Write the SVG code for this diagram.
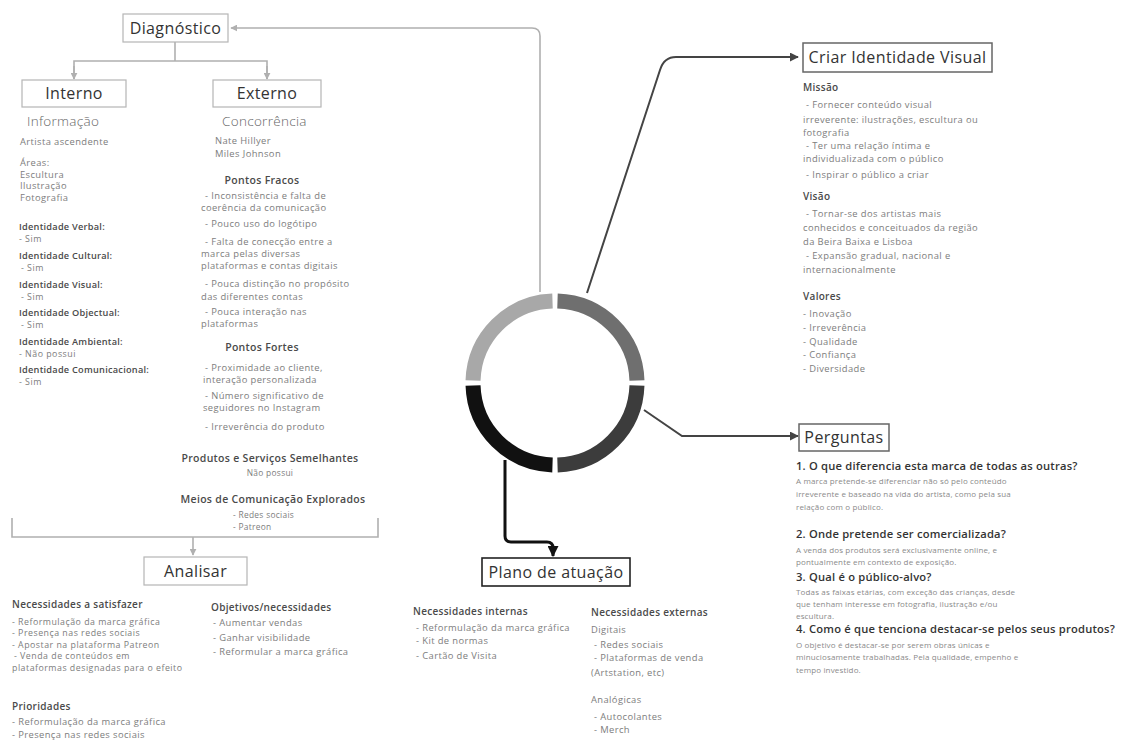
<svg xmlns="http://www.w3.org/2000/svg" width="1123" height="741" viewBox="0 0 1123 741">
<style>
text{font-family:"Open Sans","Noto Sans",sans-serif}
.bx1{fill:#fff;stroke:#b5b5b5;stroke-width:1.2}
.bx2{fill:#fff;stroke:#666;stroke-width:1.5}
.bx3{fill:#fff;stroke:#222;stroke-width:1.6}
.bt{font-size:16px;fill:#333;text-anchor:middle;letter-spacing:.4px}
.sub{font-size:13.5px;fill:#666;font-weight:300;letter-spacing:.3px}
.s{font-size:9.4px;fill:#7d7d7d;letter-spacing:.4px}
.st{font-size:8.8px;fill:#7d7d7d;letter-spacing:.5px}
.sm{font-size:8.4px;fill:#7d7d7d;letter-spacing:.3px}
.h{font-size:10px;font-weight:600;fill:#4a4a4a;letter-spacing:.3px}
.hi{font-size:9.2px;font-weight:600;fill:#4a4a4a;letter-spacing:.25px}
.hc{font-size:10.5px;font-weight:600;fill:#4a4a4a;text-anchor:middle;letter-spacing:.3px}
.q{font-size:11.2px;font-weight:600;fill:#333;letter-spacing:.2px}
.qb{font-size:8px;fill:#8a8a8a;letter-spacing:.15px}
.c{text-anchor:middle}
.gl{fill:none;stroke:#b0b0b0;stroke-width:1.6}
.dl{fill:none;stroke:#444;stroke-width:2}
.kl{fill:none;stroke:#111;stroke-width:3}
</style>
<defs>
<marker id="ag" viewBox="0 0 10 10" refX="9" refY="5" markerWidth="7" markerHeight="7" markerUnits="userSpaceOnUse" orient="auto"><path d="M0,0 L10,5 L0,10 z" fill="#b0b0b0"/></marker>
<marker id="ad" viewBox="0 0 10 10" refX="9" refY="5" markerWidth="9" markerHeight="9" markerUnits="userSpaceOnUse" orient="auto"><path d="M0,0 L10,5 L0,10 z" fill="#444"/></marker>
<marker id="ak" viewBox="0 0 10 10" refX="9" refY="5" markerWidth="11" markerHeight="11" markerUnits="userSpaceOnUse" orient="auto"><path d="M0,0 L10,5 L0,10 z" fill="#111"/></marker>
</defs>
<rect width="1123" height="741" fill="#fff"/>

<g id="connectors">
<path class="gl" d="M540,292 L540,36 Q540,28 532,28 L231,28" marker-end="url(#ag)"/>
<path class="gl" d="M175,42 L175,61"/>
<path class="gl" d="M74,79 L74,61 L267,61 L267,79" />
<path class="gl" d="M74,66 L74,79" marker-end="url(#ag)"/>
<path class="gl" d="M267,66 L267,79" marker-end="url(#ag)"/>
<path class="gl" d="M12,518 L12,537 L378,537 L378,518"/>
<path class="gl" d="M193,537 L193,555" marker-end="url(#ag)"/>
<path class="dl" d="M587,293 L660,70 Q664,57 676,57 L798,57" marker-end="url(#ad)"/>
<path class="dl" d="M644,410 L682,436 L798,436" marker-end="url(#ad)"/>
<path class="kl" d="M505,460 L505,536 Q505,542 511,542 L547,542 Q553,542 553,548 L553,556" marker-end="url(#ak)"/>
</g>

<g id="ring">
<path d="M473.04,380.5 A82,82 0 0 1 552.5,301.04" fill="none" stroke="#a8a8a8" stroke-width="15"/>
<path d="M557.5,301.04 A82,82 0 0 1 636.96,380.5" fill="none" stroke="#6f6f6f" stroke-width="15"/>
<path d="M636.96,385.5 A82,82 0 0 1 557.5,464.96" fill="none" stroke="#3c3c3c" stroke-width="15"/>
<path d="M552.5,464.96 A82,82 0 0 1 473.04,385.5" fill="none" stroke="#111" stroke-width="15"/>
</g>

<g id="diagnostico">
<rect class="bx1" x="123" y="14" width="105" height="28"/>
<text class="bt" x="175.5" y="33.5">Diagnóstico</text>
</g>

<g id="interno">
<rect class="bx1" x="22" y="80" width="104" height="27"/>
<text class="bt" x="74" y="99">Interno</text>
<text class="sub" x="27" y="126">Informação</text>
<text class="s" x="20" y="145">Artista ascendente</text>
<text class="s" x="20" y="166">Áreas:</text>
<text class="s" x="20" y="177.5">Escultura</text>
<text class="s" x="20" y="189">Ilustração</text>
<text class="s" x="20" y="200.5">Fotografia</text>
<text class="hi" x="19" y="229.5">Identidade Verbal:</text>
<text class="st" x="19" y="241.5">- Sim</text>
<text class="hi" x="19" y="258.5">Identidade Cultural:</text>
<text class="st" x="21" y="271">- Sim</text>
<text class="hi" x="19" y="287.5">Identidade Visual:</text>
<text class="st" x="21" y="300">- Sim</text>
<text class="hi" x="19" y="315.5">Identidade Objectual:</text>
<text class="st" x="21" y="328">- Sim</text>
<text class="hi" x="19" y="344.5">Identidade Ambiental:</text>
<text class="st" x="19" y="357">- Não possui</text>
<text class="hi" x="19" y="372.5">Identidade Comunicacional:</text>
<text class="st" x="19" y="385">- Sim</text>
</g>

<g id="externo">
<rect class="bx1" x="213" y="80" width="108" height="27"/>
<text class="bt" x="267" y="99">Externo</text>
<text class="sub" x="222" y="126">Concorrência</text>
<text class="s" x="215" y="144">Nate Hillyer</text>
<text class="s" x="215" y="157">Miles Johnson</text>
<text class="hc" x="262" y="184">Pontos Fracos</text>
<text class="s" x="205" y="199">- Inconsistência e falta de</text>
<text class="s" x="201" y="211">coerência da comunicação</text>
<text class="s" x="205" y="227">- Pouco uso do logótipo</text>
<text class="s" x="205" y="245">- Falta de conecção entre a</text>
<text class="s" x="201" y="257">marca pelas diversas</text>
<text class="s" x="201" y="269">plataformas e contas digitais</text>
<text class="s" x="205" y="287">- Pouca distinção no propósito</text>
<text class="s" x="201" y="299.5">das diferentes contas</text>
<text class="s" x="205" y="315">- Pouca interação nas</text>
<text class="s" x="201" y="327">plataformas</text>
<text class="hc" x="262" y="351">Pontos Fortes</text>
<text class="s" x="205" y="371">- Proximidade ao cliente,</text>
<text class="s" x="203" y="382.5">interação personalizada</text>
<text class="s" x="205" y="399">- Número significativo de</text>
<text class="s" x="203" y="411">seguidores no Instagram</text>
<text class="s" x="205" y="430">- Irreverência do produto</text>
<text class="hc" x="270" y="462">Produtos e Serviços Semelhantes</text>
<text class="sm c" x="270" y="476">Não possui</text>
<text class="hc" x="273" y="503">Meios de Comunicação Explorados</text>
<text class="sm" x="233" y="518">- Redes sociais</text>
<text class="sm" x="233" y="529.5">- Patreon</text>
</g>

<g id="analisar">
<rect class="bx1" x="144" y="557" width="103" height="28"/>
<text class="bt" x="195.5" y="576.5">Analisar</text>
<text class="h" x="12" y="608">Necessidades a satisfazer</text>
<text class="st" x="12" y="624.5">- Reformulação da marca gráfica</text>
<text class="st" x="12" y="636">- Presença nas redes sociais</text>
<text class="st" x="12" y="647.5">- Apostar na plataforma Patreon</text>
<text class="st" x="14" y="659">- Venda de conteúdos em</text>
<text class="st" x="12" y="670.5">plataformas designadas para o efeito</text>
<text class="h" x="211" y="611">Objetivos/necessidades</text>
<text class="s" x="213" y="626">- Aumentar vendas</text>
<text class="s" x="213" y="641">- Ganhar visibilidade</text>
<text class="s" x="213" y="655">- Reformular a marca gráfica</text>
<text class="h" x="12" y="710">Prioridades</text>
<text class="s" x="12" y="725">- Reformulação da marca gráfica</text>
<text class="s" x="12" y="738">- Presença nas redes sociais</text>
</g>

<g id="plano">
<rect class="bx3" x="482" y="558" width="148" height="28"/>
<text class="bt" x="556" y="577.5">Plano de atuação</text>
<text class="h" x="413" y="615">Necessidades internas</text>
<text class="s" x="416" y="631">- Reformulação da marca gráfica</text>
<text class="s" x="416" y="644">- Kit de normas</text>
<text class="s" x="416" y="659">- Cartão de Visita</text>
<text class="h" x="591" y="616">Necessidades externas</text>
<text class="s" x="591" y="633">Digitais</text>
<text class="s" x="594" y="648">- Redes sociais</text>
<text class="s" x="594" y="661">- Plataformas de venda</text>
<text class="s" x="591" y="676">(Artstation, etc)</text>
<text class="s" x="591" y="703">Analógicas</text>
<text class="s" x="594" y="720">- Autocolantes</text>
<text class="s" x="594" y="733">- Merch</text>
</g>

<g id="identidade">
<rect class="bx2" x="803" y="43" width="189" height="29"/>
<text class="bt" x="897.5" y="63">Criar Identidade Visual</text>
<text class="h" x="803" y="91">Missão</text>
<text class="s" x="806" y="108">- Fornecer conteúdo visual</text>
<text class="s" x="803" y="123">irreverente: ilustrações, escultura ou</text>
<text class="s" x="803" y="136">fotografia</text>
<text class="s" x="806" y="149">- Ter uma relação íntima e</text>
<text class="s" x="803" y="162">individualizada com o público</text>
<text class="s" x="806" y="178">- Inspirar o público a criar</text>
<text class="h" x="803" y="200">Visão</text>
<text class="s" x="806" y="217">- Tornar-se dos artistas mais</text>
<text class="s" x="803" y="231">conhecidos e conceituados da região</text>
<text class="s" x="803" y="245">da Beira Baixa e Lisboa</text>
<text class="s" x="806" y="259">- Expansão gradual, nacional e</text>
<text class="s" x="803" y="273">internacionalmente</text>
<text class="h" x="803" y="300">Valores</text>
<text class="s" x="803" y="317">- Inovação</text>
<text class="s" x="803" y="331">- Irreverência</text>
<text class="s" x="803" y="345">- Qualidade</text>
<text class="s" x="803" y="358">- Confiança</text>
<text class="s" x="803" y="372">- Diversidade</text>
</g>

<g id="perguntas">
<rect class="bx2" x="799" y="424" width="90" height="27"/>
<text class="bt" x="844" y="443">Perguntas</text>
<text class="q" x="796" y="470">1. O que diferencia esta marca de todas as outras?</text>
<text class="qb" x="796" y="484">A marca pretende-se diferenciar não só pelo conteúdo</text>
<text class="qb" x="796" y="497">irreverente e baseado na vida do artista, como pela sua</text>
<text class="qb" x="796" y="510">relação com o público.</text>
<text class="q" x="796" y="538">2. Onde pretende ser comercializada?</text>
<text class="qb" x="796" y="553">A venda dos produtos será exclusivamente online, e</text>
<text class="qb" x="796" y="565">pontualmente em contexto de exposição.</text>
<text class="q" x="796" y="581">3. Qual é o público-alvo?</text>
<text class="qb" x="796" y="595">Todas as faixas etárias, com exceção das crianças, desde</text>
<text class="qb" x="796" y="607">que tenham interesse em fotografia, ilustração e/ou</text>
<text class="qb" x="796" y="619">escultura.</text>
<text class="q" x="796" y="633">4. Como é que tenciona destacar-se pelos seus produtos?</text>
<text class="qb" x="796" y="648">O objetivo é destacar-se por serem obras únicas e</text>
<text class="qb" x="796" y="660">minuciosamente trabalhadas. Pela qualidade, empenho e</text>
<text class="qb" x="796" y="673">tempo investido.</text>
</g>
</svg>
